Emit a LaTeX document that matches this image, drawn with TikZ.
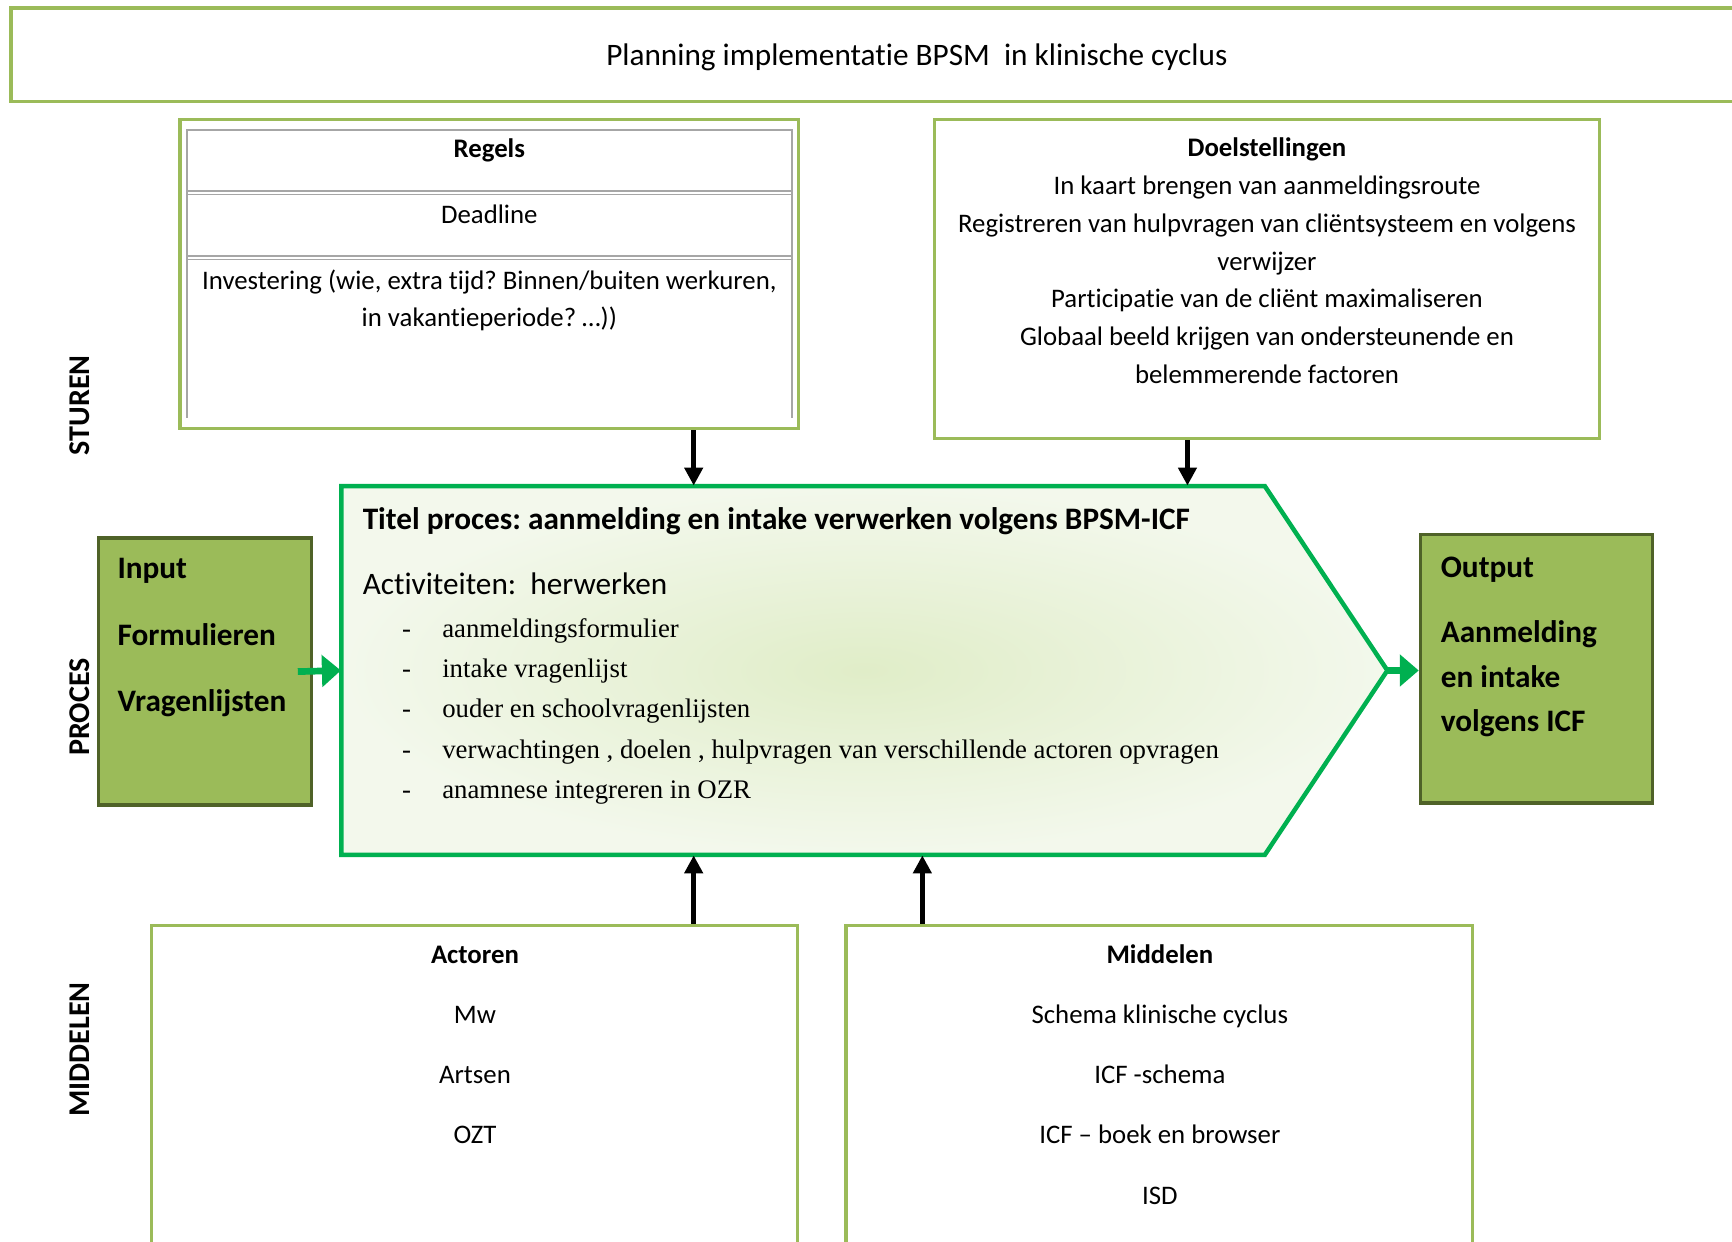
\documentclass[tikz,border=0pt]{standalone}
\usepackage{fontspec}
\setmainfont{Carlito}[Ligatures=NoCommon]
\newfontfamily\timesfont{Liberation Serif}
\usetikzlibrary{arrows.meta, positioning, fit, calc}
\frenchspacing

\definecolor{olijf}{HTML}{9BBB59}
\definecolor{donkerolijf}{HTML}{4F6228}
\definecolor{procesgroen}{HTML}{00B050}
\definecolor{tabelgrijs}{HTML}{A6A6A6}
\definecolor{vulbinnen}{RGB}{224,237,200}
\definecolor{vulbuiten}{RGB}{243,248,236}

\tikzset{
  kader/.style={inner sep=0pt, draw=olijf, line width=1.6pt},
  ioblok/.style={inner sep=0pt, draw=donkerolijf, fill=olijf, line width=1.6pt},
  groot/.style={font=\fontsize{14}{17}\selectfont},
  vet/.style={font=\fontsize{14}{17}\selectfont\bfseries},
  lijst/.style={font=\timesfont\fontsize{12}{18}\selectfont},
  zijlabel/.style={rotate=90, font=\fontsize{13.5}{16}\selectfont\bfseries},
  tabellijn/.style={draw=tabelgrijs, line width=0.8pt},
  pijl/.style={line width=2.5pt, -{Triangle[width=8pt,length=8pt]}},
  groenpijl/.style={draw=procesgroen, line width=3pt, -{Triangle[width=14pt,length=8.5pt]}}
}

\begin{document}
\begin{tikzpicture}[x=0.4948pt, y=-0.4948pt, inner sep=0pt, font=\fontsize{12}{16.9}\selectfont]
\useasboundingbox (0,0) rectangle (1568,1124);
\clip (0,0) rectangle (1568,1124);

% titel
\node[kader, fit={(10,7) (1650,92)}] (kop) {};
\node[groot] (koptekst) at (830,52) {Planning implementatie BPSM\ \ in klinische cyclus};

% sturen: regels
\node[kader, fit={(163,108) (723,388)}] (regels) {};
\draw[tabellijn] (169,378) -- (169,118) -- (717,118) -- (717,378);
\draw[tabellijn] (169,173) -- (717,173) (169,176) -- (717,176)
                 (169,232) -- (717,232) (169,235) -- (717,235);
\node[anchor=base] (regelskop) at (443,143) {\textbf{Regels}};
\node[anchor=base] (deadline) at (443,202) {Deadline};
\node[anchor=base] (investering1) at (443,262) {Investering (wie, extra tijd? Binnen/buiten werkuren,};
\node[anchor=base] (investering2) at (443,296) {in vakantieperiode? …))};

% sturen: doelstellingen
\node[kader, fit={(846,108) (1448,397)}] (doelen) {};
\foreach \regel [count=\i from 0] in {\textbf{Doelstellingen}, In kaart brengen van aanmeldingsroute,
    Registreren van hulpvragen van cliëntsysteem en volgens, verwijzer,
    Participatie van de cliënt maximaliseren, Globaal beeld krijgen van ondersteunende en,
    belemmerende factoren}
  \node[anchor=base] (doel\i) at (1147,{142+34.2*\i}) {\regel};

% proces
\shadedraw[draw=procesgroen, line width=2pt, inner color=vulbinnen, outer color=vulbuiten]
  (309,440) -- (1145,440) -- (1256,607) -- (1145,774) -- (309,774) -- cycle;
\node[fit={(309,440) (1145,774)}] (proces) {};
\coordinate (procespunt) at (1256,607);
\node[vet, anchor=base west] (procestitel) at (328,479) {Titel proces: aanmelding en intake verwerken volgens BPSM-ICF};
\node[groot, anchor=base west] (activiteiten) at (328,538) {Activiteiten:\ \ herwerken};
\foreach \act [count=\i from 0] in {aanmeldingsformulier, intake vragenlijst, ouder en schoolvragenlijsten,
    {verwachtingen , doelen , hulpvragen van verschillende actoren opvragen}, anamnese integreren in OZR} {
  \node[lijst, anchor=base] (streep\i) at (368,{577+36.5*\i}) {-};
  \node[lijst, anchor=base west] (activiteit\i) at (400,{577+36.5*\i}) {\act};
}

% input en output
\node[ioblok, fit={(89,487) (282,729)}] (input) {};
\node[vet, anchor=base west] (input0) at (106,524) {Input};
\node[vet, anchor=base west] (input1) at (106,584) {Formulieren};
\node[vet, anchor=base west] (input2) at (106,644) {Vragenlijsten};

\node[ioblok, fit={(1286,484) (1496,727)}] (output) {};
\node[vet, anchor=base west] (output0) at (1304,523) {Output};
\foreach \regel [count=\i from 1] in {Aanmelding, en intake, volgens ICF}
  \node[vet, anchor=base west] (output\i) at (1304,{542+40*\i}) {\regel};

% middelen
\node[kader, fit={(137,838) (722,1160)}] (actoren) {};
\foreach \regel [count=\i from 0] in {\textbf{Actoren}, Mw, Artsen, OZT}
  \node[anchor=base] (actor\i) at (430,{872+54.5*\i}) {\regel};
\node[kader, fit={(766,838) (1333,1160)}] (middelen) {};
\foreach \regel [count=\i from 0] in {\textbf{Middelen}, Schema klinische cyclus, ICF -schema,
    ICF – boek en browser, ISD}
  \node[anchor=base] (middel\i) at (1050,{872+54.5*\i}) {\regel};

% zijlabels
\node[zijlabel] (sturen) at (72,367) {STUREN};
\node[zijlabel] (proceslabel) at (72,640) {PROCES};
\node[zijlabel] (middelenlabel) at (72,950) {MIDDELEN};

% pijlen
\coordinate (links) at (628,0);
\coordinate (rechts) at (1075,0);
\coordinate (midden) at (835,0);
\draw[pijl] (regels.south -| links) -- (proces.north -| links);
\draw[pijl] (doelen.south -| rechts) -- (proces.north -| rechts);
\draw[pijl] (actoren.north -| links) -- (proces.south -| links);
\draw[pijl] (middelen.north -| midden) -- (proces.south -| midden);
\draw[groenpijl] ($(input.east)+(-14,0)$) -- (proces.west);
\draw[groenpijl] (procespunt) -- (procespunt -| output.west);
\end{tikzpicture}
\end{document}
